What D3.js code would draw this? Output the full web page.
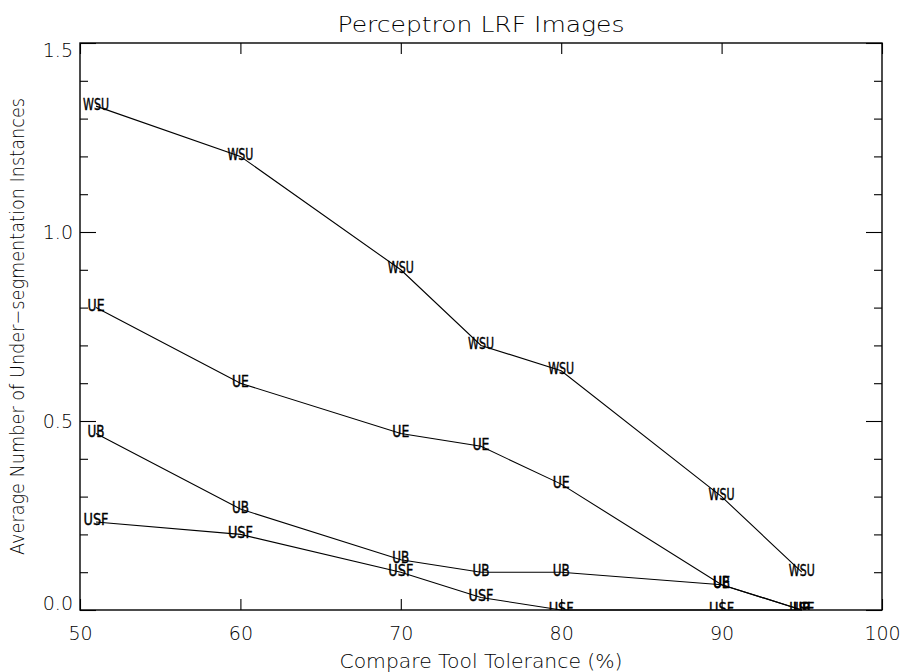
<!DOCTYPE html>
<html>
<head>
<meta charset="utf-8">
<script src="https://cdn.jsdelivr.net/npm/d3@7"></script>
<style>
  html, body { margin: 0; padding: 0; background: #fff; }
  svg { display: block; }
  text { font-family: "DejaVu Sans", sans-serif; fill: #000; }
</style>
</head>
<body>
<svg id="chart" width="905" height="672"></svg>
<script>
// Tolerance settings (x) and average under-segmentation counts per method
const tolerance = [51, 60, 70, 75, 80, 90, 95];
const wsu = [1.333, 1.2, 0.9, 0.7, 0.633, 0.3, 0.1];
const ue  = [0.8, 0.6, 0.467, 0.433, 0.333, 0.067, 0.0];
const ub  = [0.467, 0.267, 0.133, 0.1, 0.1, 0.067, 0.0];
const usf = [0.233, 0.2, 0.1, 0.033, 0.0, 0.0, 0.0];
const seriesNames = ["WSU", "UE", "UB", "USF"];
const seriesValues = [wsu, ue, ub, usf];

const xTicks = [50, 60, 70, 80, 90, 100];
const yMajor = [0.0, 0.5, 1.0, 1.5];
const yMinor = [0.1, 0.2, 0.3, 0.4, 0.6, 0.7, 0.8, 0.9, 1.1, 1.2, 1.3, 1.4];

const titleText = "Perceptron LRF Images";
const xTitle = "Compare Tool Tolerance (%)";
const yTitle = "Average Number of Under\u2212segmentation Instances";

const L = 80, R = 882, T = 43, B = 610;
const svg = d3.select("#chart");

const x = d3.scaleLinear().domain([50, 100]).range([L, R]);
const y = d3.scaleLinear().domain([0, 1.5]).range([B, T]);

const tickFont = 19;

// Bottom axis with labels
const gxb = svg.append("g").attr("transform", `translate(0,${B})`)
  .call(d3.axisBottom(x).tickValues(xTicks).tickSize(-11).tickPadding(17)
    .tickFormat(d3.format("d")));
// Top axis, ticks only
const gxt = svg.append("g").attr("transform", `translate(0,${T})`)
  .call(d3.axisTop(x).tickValues(xTicks).tickSize(-11).tickFormat(""));

// Left axis: majors with labels, minors without
const gyl = svg.append("g").attr("transform", `translate(${L},0)`)
  .call(d3.axisLeft(y).tickValues(yMajor).tickSize(-16).tickPadding(7)
    .tickFormat(d3.format(".1f")));
const gylm = svg.append("g").attr("transform", `translate(${L},0)`)
  .call(d3.axisLeft(y).tickValues(yMinor).tickSize(-8).tickFormat(""));
// Right axis
const gyr = svg.append("g").attr("transform", `translate(${R},0)`)
  .call(d3.axisRight(y).tickValues(yMajor).tickSize(-16).tickFormat(""));
const gyrm = svg.append("g").attr("transform", `translate(${R},0)`)
  .call(d3.axisRight(y).tickValues(yMinor).tickSize(-8).tickFormat(""));

svg.selectAll(".domain").remove();
svg.selectAll(".tick line").attr("stroke", "#000").attr("stroke-width", 1.1);
svg.selectAll(".tick text")
  .attr("font-size", tickFont)
  .attr("font-family", "DejaVu Sans, sans-serif")
  .attr("font-weight", 200)
  .attr("fill", "#000");

// End labels of the value axis sit inside the frame
gyl.selectAll(".tick text").attr("dy", d => d === 1.5 ? "0.7em" : d === 0 ? "-0.05em" : "0.35em");

// Plot frame
svg.append("rect")
  .attr("x", L).attr("y", T).attr("width", R - L).attr("height", B - T)
  .attr("fill", "none").attr("stroke", "#000").attr("stroke-width", 1.4);

// Titles
svg.append("text")
  .attr("x", (L + R) / 2).attr("y", 32)
  .attr("text-anchor", "middle")
  .attr("font-size", 21).attr("font-weight", 200)
  .attr("textLength", 287).attr("lengthAdjust", "spacingAndGlyphs")
  .text(titleText);

svg.append("text")
  .attr("x", (L + R) / 2).attr("y", 668)
  .attr("text-anchor", "middle")
  .attr("font-size", 19).attr("font-weight", 200)
  .attr("textLength", 283).attr("lengthAdjust", "spacingAndGlyphs")
  .text(xTitle);

svg.append("text")
  .attr("transform", `translate(24,${(T + B) / 2}) rotate(-90)`)
  .attr("text-anchor", "middle")
  .attr("font-size", 19).attr("font-weight", 200)
  .attr("textLength", 457).attr("lengthAdjust", "spacingAndGlyphs")
  .text(yTitle);

// Clip for point labels
svg.append("clipPath").attr("id", "plotClip")
  .append("rect").attr("x", L).attr("y", T).attr("width", R - L).attr("height", B - T);

const line = d3.line().x(d => x(d[0])).y(d => y(d[1]));
const labelWidth = { WSU: 26, UE: 17, UB: 17, USF: 25 };

seriesValues.forEach((vals, i) => {
  const pts = tolerance.map((t, j) => [t, vals[j]]);
  svg.append("path")
    .attr("d", line(pts))
    .attr("fill", "none")
    .attr("stroke", "#000")
    .attr("stroke-width", 1.1);

  svg.append("g").attr("clip-path", "url(#plotClip)")
    .selectAll("text").data(pts).join("text")
    .attr("x", d => x(d[0]))
    .attr("y", d => y(d[1]) + 3.5)
    .attr("text-anchor", "middle")
    .attr("font-size", 15)
    .attr("stroke", "#000").attr("stroke-width", 0.4)
    .attr("textLength", labelWidth[seriesNames[i]])
    .attr("lengthAdjust", "spacingAndGlyphs")
    .text(seriesNames[i]);
});
</script>
</body>
</html>
